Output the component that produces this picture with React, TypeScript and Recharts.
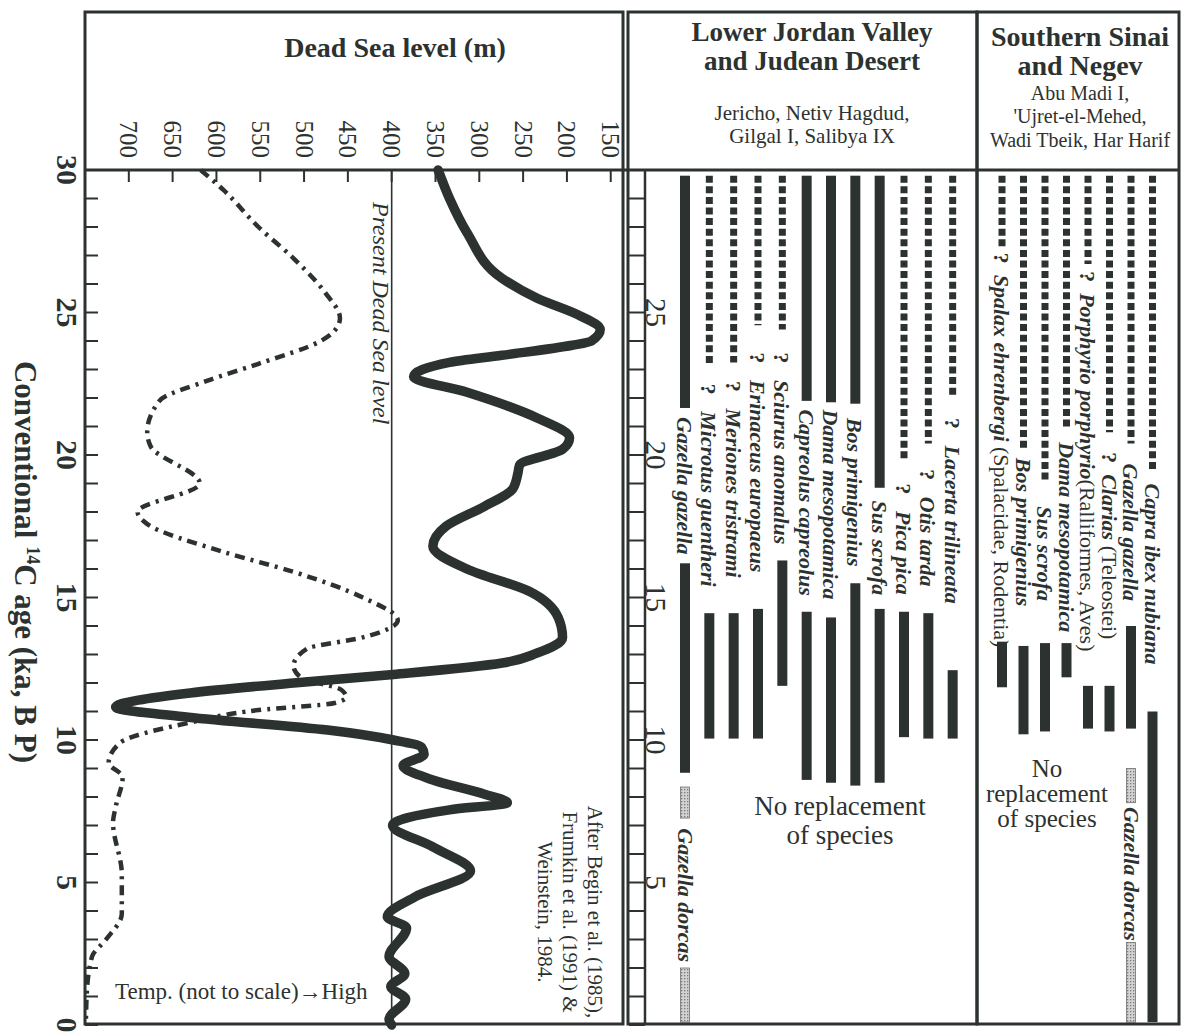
import React from 'react';
import { ScatterChart, Scatter, XAxis, YAxis, ReferenceLine, ComposedChart, Bar } from 'recharts';

const INK = '#2c322f';
const SERIF = '"Liberation Serif", "Times New Roman", serif';

// ---------- Left panel: Dead Sea level ----------
const LEVEL_TICKS = [700, 650, 600, 550, 500, 450, 400, 350, 300, 250, 200, 150];
const AGE_TICKS = [0, 1, 2, 3, 4, 5, 6, 7, 8, 9, 10, 11, 12, 13, 14, 15, 16, 17, 18, 19, 20, 21, 22, 23, 24, 25, 26, 27, 28, 29, 30];
const PRESENT_LEVEL = 400;

const LEVEL_AGES = [30.0, 29.0, 27.8, 26.2, 25.5, 24.9, 24.4, 24.0, 23.85, 23.5, 23.25, 22.75, 22.2, 21.3, 20.6, 20.2, 19.65, 19.35, 18.8, 18.2, 17.5, 16.8, 16.0, 15.2, 14.3, 13.6, 13.05, 12.7, 12.3, 12.0, 11.65, 11.15, 10.8, 10.35, 10.0, 9.75, 9.5, 9.1, 8.6, 8.1, 7.8, 7.55, 7.0, 6.25, 5.4, 4.5, 3.8, 3.4, 2.4, 1.8, 1.35, 0.9, 0.2, 0.0];
const LEVEL_M = [347, 334, 314, 274, 234, 186, 162, 172, 194, 274, 334, 375, 314, 234, 197, 205, 254, 256, 262, 294, 338, 353, 314, 242, 210, 205, 234, 274, 398, 512, 630, 715, 632, 473, 398, 366, 363, 387, 353, 294, 268, 334, 399, 353, 310, 373, 405, 383, 403, 385, 401, 384, 403, 400];

// temperature curve (not to scale), drawn in the same horizontal units
const TEMP_AGES = [30.0, 29.3, 28.0, 26.9, 25.7, 24.8, 24.3, 24.0, 23.2, 22.6, 21.9, 20.8, 20.3, 19.0, 18.0, 17.6, 16.6, 15.9, 15.0, 14.2, 13.6, 13.2, 12.6, 12.2, 11.75, 11.5, 11.3, 11.05, 10.6, 9.9, 9.2, 8.7, 7.65, 7.1, 5.3, 3.9, 3.0, 2.4, 1.1, 0.0];
const TEMP_M = [618, 592, 552, 512, 476, 459, 467, 481, 552, 611, 665, 679, 675, 619, 690, 680, 592, 512, 433, 393, 433, 497, 512, 504, 457, 452, 465, 552, 632, 710, 723, 707, 715, 718, 708, 708, 726, 742, 748, 749];

// ---------- Middle panel: Lower Jordan Valley ----------
const MJ_SPECIES = ['Gazella gazella', 'Microtus guentheri', 'Meriones tristrami', 'Erinaceus europaeus', 'Sciurus anomalus', 'Capreolus capreolus', 'Dama mesopotamica', 'Bos primigenius', 'Sus scrofa', 'Pica pica', 'Otis tarda', 'Lacerta trilineata'];
const MJ_SOLID_A = [[29.8, 21.65], null, null, null, null, [29.8, 21.9], [29.8, 21.85], [29.8, 21.8], [29.8, 18.85], null, null, null];
const MJ_DASH = [null, [29.8, 23.15], [29.8, 23.25], [29.8, 24.55], [29.8, 24.4], null, null, null, null, [29.8, 19.8], [29.8, 20.4], [29.8, 22.0]];
const MJ_SOLID_B = [[16.2, 8.85], [14.45, 10.05], [14.45, 10.05], [14.6, 10.05], [16.3, 11.9], [14.5, 8.6], [14.3, 8.5], [15.5, 8.4], [14.6, 8.5], [14.5, 10.1], [14.45, 10.05], [12.45, 10.05]];
const MJ_STIP_A = [[8.35, 7.26], null, null, null, null, null, null, null, null, null, null, null];
const MJ_STIP_B = [[2.0, 0.1], null, null, null, null, null, null, null, null, null, null, null];
const MJ_LABEL_AT = [21.33, 22.5, 22.6, 23.6, 23.6, 21.6, 21.6, 21.3, 18.4, 19.0, 19.5, 21.3];
const MJ_QUERY = [false, true, true, true, true, false, false, false, false, true, true, true];
const MJ_EXTRA = ['Gazella dorcas', null, null, null, null, null, null, null, null, null, null, null];
const MJ_EXTRA_AT = [6.9, null, null, null, null, null, null, null, null, null, null, null];

// ---------- Right panel: Southern Sinai and Negev ----------
const SN_SPECIES = ['Spalax ehrenbergi', 'Bos primigenius', 'Sus scrofa', 'Dama mesopotamica', 'Porphyrio porphyrio', 'Clarias', 'Gazella gazella', 'Capra ibex nubiana'];
const SN_NOTES = [' (Spalacidae, Rodentia)', '', '', '', '(Ralliformes, Aves)', ' (Teleostei)', '', ''];
const SN_DASH = [[29.8, 27.25], [29.8, 20.2], [29.8, 19.1], [29.8, 20.9], [29.8, 26.7], [29.8, 20.8], [29.8, 20.4], [29.8, 19.5]];
const SN_SOLID = [[13.45, 11.85], [13.3, 10.2], [13.4, 10.3], [13.4, 12.2], [11.9, 10.4], [11.9, 10.3], [14.0, 10.4], [11.0, 0.1]];
const SN_STIP_A = [null, null, null, null, null, null, [9.0, 7.8], null];
const SN_STIP_B = [null, null, null, null, null, null, [2.9, 0.1], null];
const SN_LABEL_AT = [27.1, 19.9, 18.2, 20.45, 26.45, 20.1, 19.7, 19.0];
const SN_QUERY = [true, false, false, false, true, true, false, false];
const SN_EXTRA = [null, null, null, null, null, null, 'Gazella dorcas', null];
const SN_EXTRA_AT = [null, null, null, null, null, null, 7.65, null];

// ---------- helpers ----------
const rng = (seg: any) => (seg ? [Math.min(seg[0], seg[1]), Math.max(seg[0], seg[1])] : null);
const lab = (at: any) => (at == null ? null : [at - 0.3, at]);

const buildRows = (species: string[], cols: any) =>
  species.map((name, i) => ({
    name,
    solidA: rng(cols.solidA ? cols.solidA[i] : null),
    solidB: rng(cols.solidB ? cols.solidB[i] : null),
    dash: rng(cols.dash ? cols.dash[i] : null),
    stipA: rng(cols.stipA ? cols.stipA[i] : null),
    stipB: rng(cols.stipB ? cols.stipB[i] : null),
    lab: lab(cols.labelAt[i]),
    lab2: lab(cols.extraAt[i]),
    query: cols.query[i],
    note: cols.notes ? cols.notes[i] : '',
    extra: cols.extra[i],
    gap: cols.gap,
  }));

const mjRows = buildRows(MJ_SPECIES, {
  solidA: MJ_SOLID_A, solidB: MJ_SOLID_B, dash: MJ_DASH, stipA: MJ_STIP_A, stipB: MJ_STIP_B,
  labelAt: MJ_LABEL_AT, extraAt: MJ_EXTRA_AT, query: MJ_QUERY, extra: MJ_EXTRA, gap: '\u00A0\u00A0\u00A0',
});
const snRows = buildRows(SN_SPECIES, {
  solidB: SN_SOLID, dash: SN_DASH, stipA: SN_STIP_A, stipB: SN_STIP_B,
  labelAt: SN_LABEL_AT, extraAt: SN_EXTRA_AT, query: SN_QUERY, extra: SN_EXTRA, notes: SN_NOTES, gap: '\u00A0\u00A0',
});

const levelData = LEVEL_AGES.map((a, i) => ({ age: a, m: LEVEL_M[i] }));
const tempData = TEMP_AGES.map((a, i) => ({ age: a, m: TEMP_M[i] }));

const ok = (p: any) => Number.isFinite(p.height) && Number.isFinite(p.y) && p.height > 0;

const Empty = () => <g />;

const SolidShape = (p: any) => (ok(p) ? <rect x={p.x} y={p.y} width={p.width} height={p.height} fill={INK} /> : <g />);
const DashShape = (p: any) =>
  ok(p) ? (
    <line x1={p.x + p.width / 2} x2={p.x + p.width / 2} y1={p.y} y2={p.y + p.height} stroke={INK} strokeWidth={7} strokeDasharray="7 3.6" />
  ) : (
    <g />
  );
const StipShape = (p: any) =>
  ok(p) ? <rect x={p.x + 0.5} y={p.y} width={p.width - 1} height={p.height} fill="url(#stipple)" stroke="#6f6f6f" strokeWidth={0.8} /> : <g />;

const LABEL_SIZE = 22;
const LabelShape = (p: any) => {
  if (!ok(p)) return <g />;
  const d = p.payload;
  return (
    <text transform={`translate(${p.x + p.width / 2},${p.y}) rotate(90)`} dominantBaseline="central" fontFamily={SERIF} fontSize={LABEL_SIZE} fill={INK}>
      {d.query ? <tspan fontWeight="bold">{'?' + d.gap}</tspan> : null}
      <tspan fontWeight="bold" fontStyle="italic">{d.name}</tspan>
      {d.note ? <tspan fontWeight="normal">{d.note}</tspan> : null}
    </text>
  );
};
const Label2Shape = (p: any) => {
  if (!ok(p)) return <g />;
  const d = p.payload;
  return (
    <text transform={`translate(${p.x + p.width / 2},${p.y}) rotate(90)`} dominantBaseline="central" fontFamily={SERIF} fontSize={LABEL_SIZE} fontWeight="bold" fontStyle="italic" fill={INK}>
      {d.extra}
    </text>
  );
};

const LevelTick = (p: any) => (
  <text transform={`translate(${p.x},158) rotate(90)`} textAnchor="end" dominantBaseline="central" fontFamily={SERIF} fontSize={25} fill={INK}>
    {p.payload.value}
  </text>
);
const AgeTickLeft = (p: any) =>
  p.payload.value % 5 === 0 ? (
    <text transform={`translate(57,${p.y}) rotate(90)`} textAnchor="middle" fontFamily={SERIF} fontSize={30} fontWeight="bold" fill={INK}>
      {p.payload.value}
    </text>
  ) : (
    <g />
  );
const AgeTickMid = (p: any) => {
  const v = p.payload.value;
  if (v % 5 !== 0 || v === 0 || v === 30) return <g />;
  return (
    <text transform={`translate(46,${p.y}) rotate(90)`} textAnchor="middle" fontFamily={SERIF} fontSize={29} fill={INK}>
      {v}
    </text>
  );
};

const SERIES = [
  { id: 'sa', key: 'solidA', shape: SolidShape },
  { id: 'sb', key: 'solidB', shape: SolidShape },
  { id: 'd', key: 'dash', shape: DashShape },
  { id: 'ga', key: 'stipA', shape: StipShape },
  { id: 'gb', key: 'stipB', shape: StipShape },
  { id: 'la', key: 'lab', shape: LabelShape },
  { id: 'lb', key: 'lab2', shape: Label2Shape },
];

const SpeciesChart = ({ data, width, margin, padding, showAxis }: any) => (
  <ComposedChart width={width} height={1032} data={data} margin={margin}>
    {SERIES.map((s) => (
      <XAxis key={s.id} xAxisId={s.id} dataKey="name" type="category" hide padding={padding} />
    ))}
    {showAxis ? (
      <YAxis
        type="number"
        domain={[0, 30]}
        ticks={AGE_TICKS}
        interval={0}
        width={45}
        tickSize={16}
        axisLine={{ stroke: INK, strokeWidth: 2.5 }}
        tickLine={{ stroke: INK, strokeWidth: 2 }}
        tick={AgeTickMid}
      />
    ) : (
      <YAxis type="number" domain={[0, 30]} hide />
    )}
    {SERIES.map((s) => (
      <Bar key={s.id} xAxisId={s.id} dataKey={s.key} barSize={10} fill={INK} shape={s.shape} isAnimationActive={false} />
    ))}
  </ComposedChart>
);

const LeftChart = () => (
  <ScatterChart width={640} height={1032} margin={{ top: 170, right: 17, bottom: 7, left: 85 }}>
    <XAxis
      type="number"
      dataKey="m"
      orientation="top"
      domain={[136, 750]}
      reversed
      ticks={LEVEL_TICKS}
      interval={0}
      mirror
      tickSize={12}
      axisLine={false}
      tickLine={{ stroke: INK, strokeWidth: 2 }}
      tick={LevelTick}
      allowDataOverflow
    />
    <YAxis
      type="number"
      dataKey="age"
      domain={[0, 30]}
      ticks={AGE_TICKS}
      interval={0}
      mirror
      tickSize={13}
      axisLine={false}
      tickLine={{ stroke: INK, strokeWidth: 2 }}
      tick={AgeTickLeft}
    />
    <ReferenceLine x={PRESENT_LEVEL} stroke={INK} strokeWidth={1.6} />
    <Scatter
      data={tempData}
      line={{ stroke: INK, strokeWidth: 4.5, strokeDasharray: '10 6 3 6' }}
      lineJointType="monotoneY"
      shape={Empty}
      isAnimationActive={false}
    />
    <Scatter
      data={levelData}
      line={{ stroke: INK, strokeWidth: 9.5, strokeLinecap: 'round', strokeLinejoin: 'round' }}
      lineJointType="monotoneY"
      shape={Empty}
      isAnimationActive={false}
    />
  </ScatterChart>
);

const T = (props: any) => <text fontFamily={SERIF} fill={INK} {...props} />;

export default function App() {
  return (
    <div style={{ position: 'absolute', left: 0, top: 0, width: 1181, height: 1032, background: '#fff', overflow: 'hidden' }}>
      <div style={{ position: 'absolute', left: 0, top: 0 }}>
        <LeftChart />
      </div>
      <div style={{ position: 'absolute', left: 600, top: 0 }}>
        <SpeciesChart data={mjRows} width={380} margin={{ top: 170, right: 5, bottom: 7, left: 0 }} padding={{ left: 28, right: 10 }} showAxis />
      </div>
      <div style={{ position: 'absolute', left: 977, top: 0 }}>
        <SpeciesChart data={snRows} width={204} margin={{ top: 170, right: 0, bottom: 7, left: 0 }} padding={{ left: 14, right: 18 }} showAxis={false} />
      </div>
      <svg width={1181} height={1032} style={{ position: 'absolute', left: 0, top: 0, pointerEvents: 'none' }}>
        <defs>
          <pattern id="stipple" width="3" height="3" patternUnits="userSpaceOnUse">
            <rect width="3" height="3" fill="#d2d2d2" />
            <rect width="1.3" height="1.3" fill="#7a7a7a" />
          </pattern>
        </defs>
        {/* frames */}
        <g fill="none" stroke={INK} strokeWidth={3}>
          <rect x={85} y={12} width={538} height={1012} />
          <rect x={628} y={12} width={349} height={1012} />
          <rect x={977} y={12} width={202} height={1012} />
          <line x1={85} x2={1179} y1={170} y2={170} />
        </g>
        {/* left header */}
        <T x={395} y={57} textAnchor="middle" fontSize={28} fontWeight="bold">Dead Sea level (m)</T>
        <T transform="translate(15,562) rotate(90)" textAnchor="middle" fontSize={31} fontWeight="bold">
          Conventional <tspan fontSize={18} dy={-12}>14</tspan>
          <tspan dy={12}>C age (ka, B P)</tspan>
        </T>
        <T transform="translate(373,202) rotate(90)" fontSize={24} fontStyle="italic">Present Dead Sea level</T>
        <T x={115} y={999} fontSize={23}>Temp. (not to scale)→High</T>
        <T transform="translate(588,912) rotate(90)" textAnchor="middle" fontSize={21}>
          <tspan x={0} dy={0}>After Begin et al. (1985),</tspan>
          <tspan x={0} dy={25}>Frumkin et al. (1991) &amp;</tspan>
          <tspan x={0} dy={25}>Weinstein, 1984.</tspan>
        </T>
        {/* middle header */}
        <T x={812} y={41} textAnchor="middle" fontSize={27} fontWeight="bold">
          <tspan x={812} dy={0}>Lower Jordan Valley</tspan>
          <tspan x={812} dy={29}>and Judean Desert</tspan>
        </T>
        <T x={812} y={120} textAnchor="middle" fontSize={21}>
          <tspan x={812} dy={0}>Jericho, Netiv Hagdud,</tspan>
          <tspan x={812} dy={23}>Gilgal I, Salibya IX</tspan>
        </T>
        <T x={840} y={815} textAnchor="middle" fontSize={27}>
          <tspan x={840} dy={0}>No replacement</tspan>
          <tspan x={840} dy={29}>of species</tspan>
        </T>
        {/* right header */}
        <T x={1080} y={46} textAnchor="middle" fontSize={28} fontWeight="bold">
          <tspan x={1080} dy={0}>Southern Sinai</tspan>
          <tspan x={1080} dy={29}>and Negev</tspan>
        </T>
        <T x={1080} y={100} textAnchor="middle" fontSize={20}>
          <tspan x={1080} dy={0}>Abu Madi I,</tspan>
          <tspan x={1080} dy={23}>'Ujret-el-Mehed,</tspan>
          <tspan x={1080} dy={24}>Wadi Tbeik, Har Harif</tspan>
        </T>
        <T x={1047} y={777} textAnchor="middle" fontSize={25}>
          <tspan x={1047} dy={0}>No</tspan>
          <tspan x={1047} dy={25}>replacement</tspan>
          <tspan x={1047} dy={25}>of species</tspan>
        </T>
      </svg>
    </div>
  );
}
